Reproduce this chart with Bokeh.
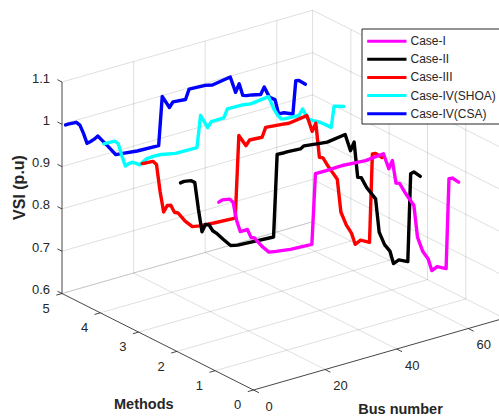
from bokeh.plotting import figure
from bokeh.models import Range1d
from bokeh.core.properties import value
from bokeh.embed import file_html
from bokeh.resources import INLINE

# Data
bus = [1,2,4,5,6,7,8,9,10,11,13,15,17,21,27,28,30,31,34.5,35.5,40,42,47,48.5,49.5,50.5,51.5,53,55.5,56.5,58,59.5,60.5,62,64.5,65.3,66.2,68]
case_1 = [.996,.999,.996,.986,.940,.912,.912,.912,.891,.887,.863,.844,.841,.836,.833,.998,.998,.998,.999,.999,.996,.995,.999,.960,.977,.921,.918,.893,.856,.779,.741,.720,.690,.696,.685,.896,.895,.881]
case_2 = [.996,.997,.994,.987,.922,.866,.881,.877,.861,.853,.833,.814,.810,.808,.805,.998,.997,.997,.995,1.0,.995,.993,.999,.957,.975,.889,.886,.859,.826,.745,.712,.693,.661,.666,.656,.862,.864,.849]
case_3 = [.996,.995,.994,.984,.918,.867,.880,.878,.859,.855,.831,.813,.810,.807,.804,.997,.968,.979,.977,.998,.994,.992,.998,.957,.974,.891,.887,.863,.827,.747,.713,.689,.661,.667,.656,.863,.862,.848]
case_4_shoa = [.997,.997,.996,.988,.957,.930,.934,.934,.929,.923,.933,.934,.933,.926,.925,.999,.965,.977,.977,.996,.995,.992,.997,.964,.948,.936,.934,.933,.932,.945,.918,.910,.906,.898,.882,.930,.928,.923]
case_4_csa = [.996,.996,.995,.986,.964,.938,.940,.943,.948,.937,.915,.892,.890,.886,.884,.998,.967,.978,.975,.997,.995,.991,.998,.958,.976,.946,.943,.941,.936,.951,.923,.914,.878,.877,.868,.945,.943,.930]

series_names = ["Case-I", "Case-II", "Case-III", "Case-IV(SHOA)", "Case-IV(CSA)"]
series_values = [case_1, case_2, case_3, case_4_shoa, case_4_csa]
series_methods = [1, 2, 3, 4, 5]
series_colors = ["#ff00ff", "#000000", "#ff0000", "#00ffff", "#0000ff"]

bus_ticks = [0, 20, 40, 60]
method_ticks = [0, 1, 2, 3, 4, 5]
vsi_ticks = [0.6, 0.7, 0.8, 0.9, 1.0, 1.1]
vsi_labels = ["0.6", "0.7", "0.8", "0.9", "1", "1.1"]
BUS_MAX = 70
METHOD_MAX = 5
VSI_MIN, VSI_MAX = 0.6, 1.1

W, H = 499, 416
INK = "#262626"
FONT = value("Liberation Sans")


def px(b, m):
    """Orthographic projection of the MATLAB 3-D view, horizontal page pixel."""
    return 253 + 3.58 * b - 38.3 * m


def py(b, m, z):
    return 389.5 - 1.025 * b - 19.3 * m - (z - VSI_MIN) * 423


p = figure(width=W, height=H, x_range=Range1d(0, W), y_range=Range1d(H, 0),
           output_backend="svg", toolbar_location=None, min_border=0)
p.axis.visible = False
p.grid.visible = False
p.outline_line_color = None
p.background_fill_color = "white"

# Grid on the back wall, right wall and floor
gx, gy = [], []


def seg(a, b):
    gx.append([px(a[0], a[1]), px(b[0], b[1])])
    gy.append([py(*a), py(*b)])


for t in bus_ticks[1:]:
    seg((t, METHOD_MAX, VSI_MIN), (t, METHOD_MAX, VSI_MAX))
    seg((t, 0, VSI_MIN), (t, METHOD_MAX, VSI_MIN))
for t in method_ticks[1:]:
    seg((BUS_MAX, t, VSI_MIN), (BUS_MAX, t, VSI_MAX))
    seg((0, t, VSI_MIN), (BUS_MAX, t, VSI_MIN))
for t in vsi_ticks:
    seg((0, METHOD_MAX, t), (BUS_MAX, METHOD_MAX, t))
    seg((BUS_MAX, 0, t), (BUS_MAX, METHOD_MAX, t))
p.multi_line(gx, gy, line_color=INK, line_alpha=0.15, line_width=1)

# Axis lines and tick marks
ax, ay = [], []


def aseg(a, b):
    ax.append([px(a[0], a[1]), px(b[0], b[1])])
    ay.append([py(*a), py(*b)])


aseg((0, METHOD_MAX, VSI_MIN), (0, METHOD_MAX, VSI_MAX))
aseg((0, 0, VSI_MIN), (0, METHOD_MAX, VSI_MIN))
aseg((0, 0, VSI_MIN), (BUS_MAX, 0, VSI_MIN))
for t in vsi_ticks:
    aseg((0, METHOD_MAX, t), (0, METHOD_MAX + 0.12, t))
for t in method_ticks:
    aseg((0, t, VSI_MIN), (-1.6, t, VSI_MIN))
for t in bus_ticks:
    aseg((t, 0, VSI_MIN), (t, -0.14, VSI_MIN))
p.multi_line(ax, ay, line_color=INK, line_alpha=0.85, line_width=1)

# Series, farthest first so nearer curves cover farther ones
for name, vals, m, col in reversed(list(zip(series_names, series_values, series_methods, series_colors))):
    xs = [px(b, m) for b in bus]
    ys = [py(b, m, z) for b, z in zip(bus, vals)]
    p.line(xs, ys, line_color=col, line_width=3.4, line_join="round", line_cap="round")

# Tick labels
tick_style = dict(text_font=FONT, text_font_size="13px", text_color=INK)
p.text([px(0, METHOD_MAX) - 12 for _ in vsi_ticks],
       [py(0, METHOD_MAX, t) - 4 for t in vsi_ticks],
       text=vsi_labels, text_align="right", text_baseline="middle", **tick_style)
p.text([px(0, t) - 15.8 for t in method_ticks],
       [py(0, t, VSI_MIN) + 14.7 for t in method_ticks],
       text=[str(t) for t in method_ticks], text_align="center", text_baseline="middle", **tick_style)
p.text([px(t, 0) + 15.5 for t in bus_ticks],
       [py(t, 0, VSI_MIN) + 16 for t in bus_ticks],
       text=[str(t) for t in bus_ticks], text_align="center", text_baseline="middle", **tick_style)

# Axis titles
title_style = dict(text_font=FONT, text_font_style="bold", text_color=INK,
                   text_align="center", text_baseline="middle")
p.text([143.3], [403.3], text=["Methods"], text_font_size="14.5px", **title_style)
p.text([400], [408.7], text=["Bus number"], text_font_size="14.5px", **title_style)
p.text([18.5], [187], text=["VSI (p.u)"], angle=1.5708, text_font_size="16px", **title_style)

# Legend box, samples and labels
LEG_L, LEG_R, LEG_T, LEG_B = 361.5, 510, 28.5, 123.5
legend_rows = [40.7, 58.7, 76.9, 95.1, 113.3]
p.quad(left=[LEG_L], right=[LEG_R], top=[LEG_T], bottom=[LEG_B], fill_color="white", line_color=INK, line_width=1)
p.segment(x0=[366.7] * 5, x1=[406] * 5, y0=legend_rows, y1=legend_rows, line_color=series_colors, line_width=3)
p.text([410] * 5, legend_rows, text=series_names, text_font=FONT, text_font_size="12px", text_color=INK,
       text_align="left", text_baseline="middle")

open("out.html", "w").write(file_html(p, INLINE))
